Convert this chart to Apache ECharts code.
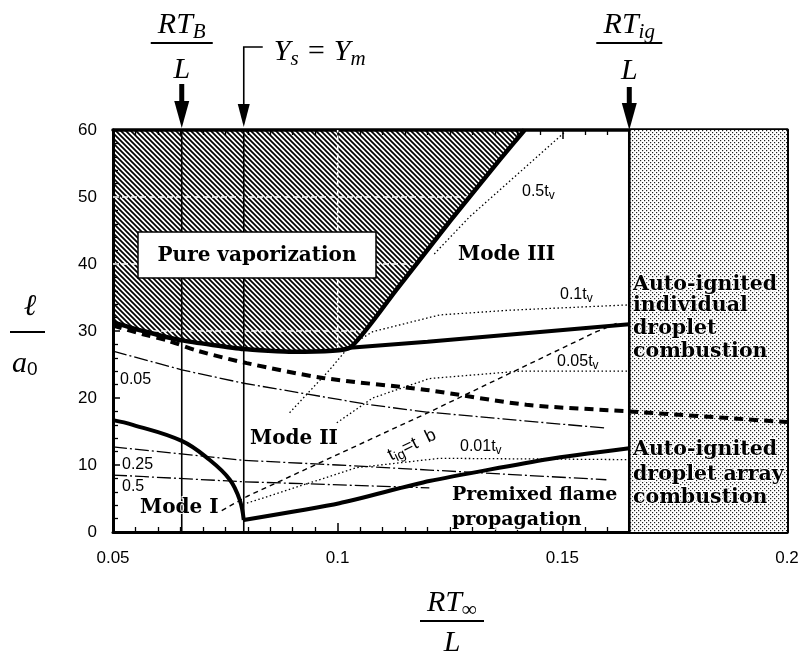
<!DOCTYPE html>
<html>
<head>
<meta charset="utf-8">
<script src="https://cdn.jsdelivr.net/npm/echarts@6/dist/echarts.min.js"></script>
<style>
  html, body { margin: 0; padding: 0; background: #fff; }
  #main { width: 804px; height: 658px; }
</style>
</head>
<body>
<div id="main"></div>
<script>
// axis ticks
const xTickValues = [0.05, 0.1, 0.15, 0.2];
const yTickValues = [0, 10, 20, 30, 40, 50, 60];

// vertical reference values RT/L
const rtB = 0.0653;
const ysEqYm = 0.0791;
const rtIg = 0.1649;

// boundaries (x = RT/L, y = l/a0)
const pureVapBoundary = [[0.05, 31.3], [0.0567, 30.0], [0.0653, 28.6], [0.0791, 27.3], [0.09, 26.9], [0.1027, 27.5], [0.113, 36.1], [0.125, 46.4], [0.136, 55.5], [0.1416, 60]];
const modeIIIBoundary = [[0.1027, 27.5], [0.12, 28.4], [0.1649, 31.0]];
const dashedBoundary = [[0.05, 30.8], [0.0567, 29.5], [0.062, 28.6], [0.0691, 27.0], [0.0798, 25.2], [0.0967, 23.0], [0.1198, 21.2], [0.142, 19.0], [0.1649, 18.0], [0.2, 16.4]];
const modeICurve = [[0.05, 16.7], [0.0544, 16.0], [0.0653, 13.6], [0.0716, 10.7], [0.076, 7.8], [0.0782, 4.8], [0.0791, 1.8]];
const premixedBoundary = [[0.0791, 1.8], [0.1004, 4.3], [0.1204, 7.6], [0.1471, 10.9], [0.1649, 12.5]];

// thin dash-dot isolines
const iso005 = [[0.05, 27.0], [0.0653, 24.2], [0.0791, 22.2], [0.1071, 19.0], [0.1198, 17.9], [0.1598, 15.5]];
const iso025 = [[0.05, 12.7], [0.0791, 10.7], [0.1, 10.0], [0.1204, 9.25], [0.1598, 7.8]];
const iso05 = [[0.05, 8.5], [0.0791, 7.5], [0.1153, 6.7], [0.1204, 6.6]];

// dotted t_v contours
const tv05 = [[0.1215, 41.5], [0.1293, 47.0], [0.1504, 59.6]];
const tv01 = [[0.0893, 17.8], [0.0982, 24.2], [0.1027, 27.8], [0.1078, 29.9], [0.1227, 32.4], [0.1382, 33.1], [0.1649, 33.9]];
const tv005 = [[0.0998, 16.3], [0.1078, 20.0], [0.1204, 22.9], [0.1404, 24.0], [0.1649, 24.0]];
const tv001 = [[0.0798, 4.3], [0.1042, 9.6], [0.1227, 11.0], [0.1649, 10.8]];

// t_ig = t_b line
const tigTb = [[0.0742, 3.2], [0.0798, 5.3], [0.1204, 17.9], [0.1576, 29.9], [0.1627, 31.3]];

// white grid lines showing through the hatch
const hatchGridY = [30, 40, 50];
const hatchGridX = [0.1];

const xMin = xTickValues[0], xMax = xTickValues[xTickValues.length - 1];
const yMin = yTickValues[0], yMax = yTickValues[yTickValues.length - 1];

function makeHatch() {
  const s = 5;
  const c = document.createElement('canvas');
  c.width = s; c.height = s;
  const ctx = c.getContext('2d');
  ctx.strokeStyle = '#000';
  ctx.lineWidth = 1.7;
  ctx.beginPath();
  ctx.moveTo(-1, -1); ctx.lineTo(s + 1, s + 1);
  ctx.moveTo(-1, s - 1); ctx.lineTo(1, s + 1);
  ctx.moveTo(s - 1, -1); ctx.lineTo(s + 1, 1);
  ctx.stroke();
  return c;
}

function makeStipple() {
  const c = document.createElement('canvas');
  c.width = 4; c.height = 4;
  const ctx = c.getContext('2d');
  ctx.fillStyle = '#fff';
  ctx.fillRect(0, 0, 4, 4);
  ctx.fillStyle = '#222';
  ctx.fillRect(0, 0, 1.2, 1.2);
  ctx.fillRect(2, 2, 1.2, 1.2);
  return c;
}

function boundaryYAt(x) {
  const b = pureVapBoundary;
  for (let i = 0; i < b.length - 1; i++) {
    if (x >= b[i][0] && x <= b[i + 1][0]) {
      const t = (x - b[i][0]) / (b[i + 1][0] - b[i][0]);
      return b[i][1] + t * (b[i + 1][1] - b[i][1]);
    }
  }
  return yMax;
}

function hatchSpanAt(y) {
  const b = pureVapBoundary;
  const xs = [];
  if (b[0][1] <= y) xs.push(b[0][0]);
  for (let i = 0; i < b.length - 1; i++) {
    const y1 = b[i][1], y2 = b[i + 1][1];
    if ((y1 - y) * (y2 - y) <= 0 && y1 !== y2) {
      xs.push(b[i][0] + (y - y1) / (y2 - y1) * (b[i + 1][0] - b[i][0]));
    }
  }
  return [Math.min.apply(null, xs), Math.max.apply(null, xs)];
}

const hatchPattern = makeHatch();
const stipplePattern = makeStipple();

function lineSeries(data, width, type, z, smooth) {
  return {
    type: 'line', data: data, showSymbol: false, symbol: 'none', smooth: smooth || false,
    silent: true, z: z, animation: false,
    lineStyle: { color: '#000', width: width, type: type, cap: 'butt' }
  };
}

const axisFont = { fontSize: 17, fontFamily: 'Liberation Sans, Arial, sans-serif', color: '#000' };

const option = {
  animation: false,
  backgroundColor: '#fff',
  grid: { left: 113, right: 17, top: 130, bottom: 126, show: false },
  xAxis: [
    {
      type: 'value', min: xMin, max: xMax, interval: 0.05, position: 'bottom',
      axisLine: { show: true, onZero: false, lineStyle: { color: '#000', width: 3 } },
      axisTick: { show: true, inside: true, length: 9, lineStyle: { color: '#000', width: 1.5 } },
      minorTick: { show: true, splitNumber: 10, length: 5, lineStyle: { color: '#000', width: 1.3 } },
      axisLabel: Object.assign({ margin: 18, showMinLabel: true, showMaxLabel: true, hideOverlap: false,
        formatter: v => String(+v.toFixed(2)) }, axisFont),
      splitLine: { show: false }
    },
    {
      type: 'value', min: xMin, max: xMax, interval: 0.05, position: 'top',
      axisLine: { show: true, onZero: false, lineStyle: { color: '#000', width: 3.5 } },
      axisTick: { show: true, inside: true, length: 9, lineStyle: { color: '#000', width: 1.5 } },
      minorTick: { show: true, splitNumber: 10, length: 5, lineStyle: { color: '#000', width: 1.3 } },
      axisLabel: { show: false }, splitLine: { show: false }
    }
  ],
  yAxis: [
    {
      type: 'value', min: yMin, max: yMax, interval: 10, position: 'left',
      axisLine: { show: true, onZero: false, lineStyle: { color: '#000', width: 3 } },
      axisTick: { show: true, inside: true, length: 7, lineStyle: { color: '#000', width: 1.5 } },
      minorTick: { show: true, splitNumber: 5, length: 5, lineStyle: { color: '#000', width: 1.3 } },
      axisLabel: Object.assign({ margin: 16, showMinLabel: true, showMaxLabel: true }, axisFont),
      splitLine: { show: false }
    },
    {
      type: 'value', min: yMin, max: yMax, interval: 10, position: 'right',
      axisLine: { show: true, onZero: false, lineStyle: { color: '#000', width: 3 } },
      axisTick: { show: true, inside: true, length: 7, lineStyle: { color: '#000', width: 1.5 } },
      minorTick: { show: true, splitNumber: 5, length: 5, lineStyle: { color: '#000', width: 1.3 } },
      axisLabel: { show: false }, splitLine: { show: false }
    }
  ],
  series: [
    // hatched pure vaporization region
    {
      type: 'custom', z: 1, silent: true, data: [0],
      renderItem: function (params, api) {
        const pts = [[xMin, yMax]].concat(pureVapBoundary).map(p => api.coord(p));
        return { type: 'polygon', shape: { points: pts },
          style: { fill: { image: hatchPattern, repeat: 'repeat' }, stroke: null } };
      }
    },
    // stippled auto-ignition region
    {
      type: 'custom', z: 1, silent: true, data: [0],
      renderItem: function (params, api) {
        const pts = [[rtIg, yMin], [xMax, yMin], [xMax, yMax], [rtIg, yMax]].map(p => api.coord(p));
        return { type: 'polygon', shape: { points: pts },
          style: { fill: { image: stipplePattern, repeat: 'repeat' }, stroke: null } };
      }
    },
    // white grid lines inside hatch
    {
      type: 'custom', z: 2, silent: true, data: [0],
      renderItem: function (params, api) {
        const children = [];
        const st = { stroke: '#fff', lineWidth: 1.6, lineDash: [6, 3] };
        hatchGridY.forEach(y => {
          const sp = hatchSpanAt(y);
          const a = api.coord([sp[0], y]), b = api.coord([sp[1], y]);
          children.push({ type: 'line', shape: { x1: a[0], y1: a[1], x2: b[0], y2: b[1] }, style: st });
        });
        hatchGridX.forEach(x => {
          const a = api.coord([x, boundaryYAt(x)]), b = api.coord([x, yMax]);
          children.push({ type: 'line', shape: { x1: a[0], y1: a[1], x2: b[0], y2: b[1] }, style: st });
        });
        return { type: 'group', children: children };
      }
    },
    lineSeries([[rtB, yMin], [rtB, yMax]], 1.6, 'solid', 3),
    lineSeries([[ysEqYm, yMin], [ysEqYm, yMax]], 1.6, 'solid', 3),
    lineSeries([[rtIg, yMin], [rtIg, yMax]], 2.6, 'solid', 3),
    lineSeries(iso005, 1.3, [14, 3, 2, 3], 3),
    lineSeries(iso025, 1.3, [14, 3, 2, 3], 3),
    lineSeries(iso05, 1.3, [14, 3, 2, 3], 3),
    lineSeries(tv05, 1.3, [1.5, 2.5], 3),
    lineSeries(tv01, 1.3, [1.5, 2.5], 3),
    lineSeries(tv005, 1.3, [1.5, 2.5], 3),
    lineSeries(tv001, 1.3, [1.5, 2.5], 3),
    lineSeries(tigTb, 1.4, [5, 4], 3),
    lineSeries(dashedBoundary, 4, [9, 6], 4, 0.3),
    lineSeries(pureVapBoundary, 4.5, 'solid', 5, 0.15),
    lineSeries(modeIIIBoundary, 4, 'solid', 5),
    lineSeries(modeICurve, 4, 'solid', 5, 0.4),
    lineSeries(premixedBoundary, 4, 'solid', 5, 0.2)
  ]
};

const chart = echarts.init(document.getElementById('main'), null, { renderer: 'canvas' });
chart.setOption(option);

const px = (x, y) => chart.convertToPixel({ gridIndex: 0 }, [x, y]);

const serifIt = 'Liberation Serif, DejaVu Serif, serif';
const boldSerif = 'DejaVu Serif, serif';
const sans = 'Liberation Sans, Arial, sans-serif';

function textEl(x, y, text, opts) {
  return {
    type: 'text', x: x, y: y, z: 100, silent: true,
    style: Object.assign({ text: text, fill: '#000', align: 'left', verticalAlign: 'middle' }, opts)
  };
}

function mathFraction(cx, topY, lineY, botY, num, sub, lineHalf) {
  return [
    textEl(cx, topY, '{m|' + num + '}{s|' + sub + '}', {
      align: 'center',
      rich: {
        m: { fontSize: 30, fontStyle: 'italic', fontFamily: serifIt },
        s: { fontSize: 21, fontStyle: 'italic', fontFamily: serifIt, padding: [14, 0, 0, 0] }
      }
    }),
    { type: 'line', z: 100, silent: true, shape: { x1: cx - lineHalf, y1: lineY, x2: cx + lineHalf, y2: lineY },
      style: { stroke: '#000', lineWidth: 1.8 } },
    textEl(cx, botY, 'L', { align: 'center', fontSize: 30, fontStyle: 'italic', fontFamily: serifIt })
  ];
}

function bigArrow(x, y0, y1) {
  return [
    { type: 'line', z: 100, silent: true, shape: { x1: x, y1: y0, x2: x, y2: y1 - 20 },
      style: { stroke: '#000', lineWidth: 5 } },
    { type: 'polygon', z: 100, silent: true, shape: { points: [[x - 7.5, y1 - 27], [x + 7.5, y1 - 27], [x, y1]] },
      style: { fill: '#000' } }
  ];
}

const xB = px(rtB, yMax)[0];
const xY = px(ysEqYm, yMax)[0];
const xIg = px(rtIg, yMax)[0];
const topY = px(rtB, yMax)[1];

const graphics = []
  .concat(mathFraction(xB, 25, 43, 70, 'RT', 'B', 31))
  .concat(bigArrow(xB, 84, topY - 2))
  .concat([
    { type: 'polyline', z: 100, silent: true, shape: { points: [[xY + 19, 47], [xY, 47], [xY, topY - 22]] },
      style: { stroke: '#000', lineWidth: 1.6, fill: null } },
    { type: 'polygon', z: 100, silent: true, shape: { points: [[xY - 6, topY - 26], [xY + 6, topY - 26], [xY, topY - 3]] },
      style: { fill: '#000' } },
    textEl(xY + 30, 52, '{m|Y}{s|s}{m| = Y}{s|m}', {
      rich: {
        m: { fontSize: 30, fontStyle: 'italic', fontFamily: serifIt },
        s: { fontSize: 21, fontStyle: 'italic', fontFamily: serifIt, padding: [14, 0, 0, 0] }
      }
    })
  ])
  .concat(mathFraction(xIg, 25, 43, 71, 'RT', 'ig', 33))
  .concat(bigArrow(xIg, 87, topY))
  // x axis title
  .concat(mathFraction(452, 603, 621, 643, 'RT', '∞', 32))
  // y axis title
  .concat([
    textEl(30, 307, 'ℓ', { align: 'center', fontSize: 30, fontStyle: 'italic', fontFamily: serifIt }),
    { type: 'line', z: 100, silent: true, shape: { x1: 10, y1: 332, x2: 45, y2: 332 }, style: { stroke: '#000', lineWidth: 1.8 } },
    textEl(12, 364, '{m|a}{s|0}', {
      rich: {
        m: { fontSize: 30, fontStyle: 'italic', fontFamily: serifIt },
        s: { fontSize: 19, fontFamily: sans, padding: [12, 0, 0, 0] }
      }
    })
  ])
  // pure vaporization box
  .concat([
    { type: 'rect', z: 90, silent: true, shape: { x: 138, y: 232, width: 238, height: 46 },
      style: { fill: '#fff', stroke: '#000', lineWidth: 1.5 } },
    textEl(257, 256, 'Pure vaporization', { align: 'center', fontSize: 20, fontWeight: 'bold', fontFamily: boldSerif })
  ]);

const regionLabels = [
  ['Mode I', 140, 508, 20],
  ['Mode II', 250, 439, 20],
  ['Mode III', 458, 255, 20],
  ['Premixed flame', 452, 495, 19],
  ['propagation', 452, 520, 19],
  ['Auto-ignited', 633, 285, 20.5],
  ['individual', 633, 306, 20.5],
  ['droplet', 633, 329, 20.5],
  ['combustion', 633, 352, 20.5],
  ['Auto-ignited', 633, 450, 20.5],
  ['droplet array', 633, 475, 20.5],
  ['combustion', 633, 498, 20.5]
];
regionLabels.forEach(l => {
  graphics.push(textEl(l[1], l[2], l[0], {
    fontSize: l[3], fontWeight: 'bold', fontFamily: boldSerif,
    stroke: '#fff', lineWidth: 2
  }));
});

const isoLabels = [
  ['0.05', 120, 380], ['0.25', 122, 465], ['0.5', 122, 487]
];
isoLabels.forEach(l => {
  graphics.push(textEl(l[1], l[2], l[0], { fontSize: 16, fontFamily: sans, stroke: '#fff', lineWidth: 3 }));
});

const tvLabels = [
  ['0.5', 522, 192], ['0.1', 560, 295], ['0.05', 557, 362], ['0.01', 460, 447]
];
tvLabels.forEach(l => {
  graphics.push(textEl(l[1], l[2], '{n|' + l[0] + 't}{s|v}', {
    rich: {
      n: { fontSize: 16, fontFamily: sans },
      s: { fontSize: 12, fontFamily: sans, padding: [7, 0, 0, 0] }
    }
  }));
});

graphics.push({
  type: 'text', x: 412, y: 445, rotation: 0.45, z: 100, silent: true,
  style: {
    text: '{n|t}{s|ig}{n|=t  b}', align: 'center', verticalAlign: 'middle', fill: '#000',
    rich: {
      n: { fontSize: 18, fontFamily: sans },
      s: { fontSize: 14, fontFamily: sans, padding: [9, 0, 0, 0] }
    }
  }
});

chart.setOption({ graphic: graphics });
</script>
</body>
</html>
